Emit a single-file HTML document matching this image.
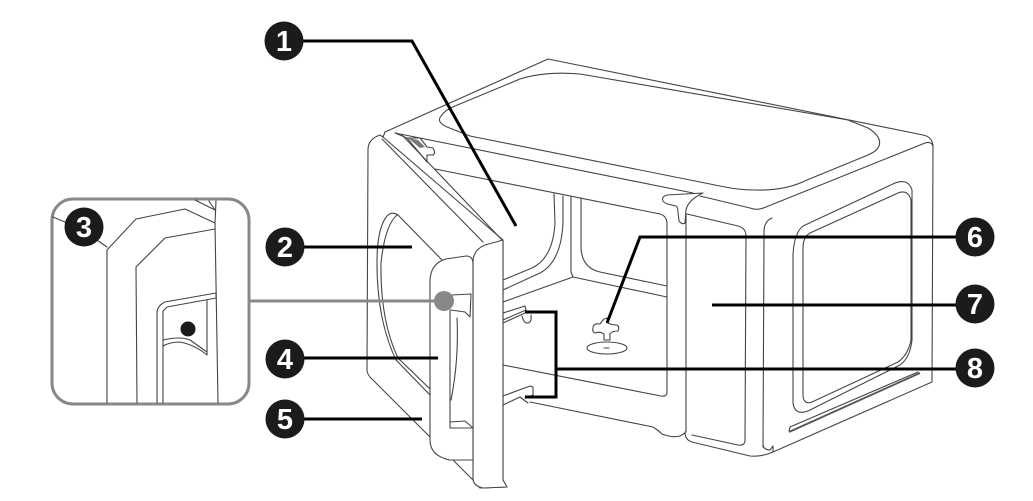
<!DOCTYPE html>
<html><head><meta charset="utf-8"><style>
html,body{margin:0;padding:0;background:#fff;width:1033px;height:501px;overflow:hidden}
svg{display:block}
.l{fill:none;stroke:#444;stroke-width:1.1;stroke-linejoin:round;stroke-linecap:round}
.w{fill:#fff;stroke:#444;stroke-width:1.1;stroke-linejoin:round}
.k{fill:none;stroke:#000;stroke-width:3}
.b{fill:#1c1a1b}
text{font-family:"Liberation Sans",sans-serif;font-weight:bold;font-size:29px;fill:#fff;text-anchor:middle}
</style></head><body>
<svg width="1033" height="501" viewBox="0 0 1033 501" xmlns="http://www.w3.org/2000/svg">
<!-- body top -->
<path class="l" d="M385 132L548 59L923 135Q933 137 933 147L932 382L773 452Q762 457 750 456L692 442Q685 440 685 432"/>
<path class="l" d="M470 136L447 127Q436 122 441 116Q445 110 455 106L520 79Q545 71 580 74L848 120L868 128Q884 138 878 148Q875 152 868 155L807 180Q785 191 755 190Q740 190 725 187Z"/>
<path class="l" d="M395 133L693 193M700 196L750 208Q757 211 766 207L925 143Q931 141 933 146"/>
<path class="l" d="M435 169L660 214Q667 216 667 224L667 392Q667 397 661 396L503 365"/>
<!-- clip -->
<path class="l" d="M703 193L667 195Q661 197 663 201Q665 204 672 205L676 206Q678 207 678 212L679 221Q682 225 685 223L686 210Q688 200 703 193"/>
<!-- front column -->
<path class="l" d="M686 214L686 432"/>
<path class="l" d="M687 214L738 226Q746 228 746 236L745 440Q745 446 738 445L692 435"/>
<path class="l" d="M763 447L764 232Q764 221 772 218"/>
<path class="l" d="M763 445Q764 450 770 450L773 446L773 452"/>
<!-- side window -->
<path class="l" d="M793 403L793 255Q794 233 803 226L895 183Q908 178 912 190L912 340Q910 358 900 365L810 410Q795 417 793 403Z"/>
<path class="l" d="M803 396L803 248Q803 237 810 233L898 193Q908 189 911 200L911 340Q908 355 898 362L812 402Q804 405 803 396Z"/>
<path class="l" d="M790 427L918 372"/>
<path class="l" d="M790 427L789 431"/>
<path d="M789 432L920 373" fill="none" stroke="#555" stroke-width="1.8"/>
<!-- cavity -->
<path class="l" d="M554 194L555 223Q553 258 532 268L503 280"/>
<path class="l" d="M563 196L563 223Q561 262 540 273L503 290"/>
<path class="l" d="M571 197L571 272L573 277L503 302"/>
<path class="l" d="M581 198L581 248Q582 268 600 272L667 286"/>
<path class="l" d="M573 277L667 297"/>
<path class="l" d="M530 402L653 427Q658 430 662 434Q672 438 680 436L685 433"/>
<!-- racks -->
<path class="l" d="M503 313L525 306L526 310L503 320M503 323L525 313"/>
<path class="l" d="M522 316Q524 324 528 323Q532 322 531 315"/>
<path class="l" d="M503 396L530 386L533 387L533 395M503 405L520 397L528 403M533 395L525 398"/>
<!-- stirrer -->
<path class="l" d="M593 328Q593 323 600 324L604 319L607 318L608 323Q612 325 617 325Q620 327 618 331Q612 331 610 334L610 340L604 340L604 334Q600 331 595 333Q592 332 593 328Z"/>
<ellipse class="l" cx="607" cy="348" rx="20" ry="6"/>
<path class="l" d="M604 348H609"/>
<!-- door back -->
<path class="w" d="M368 150Q368 139 380 135L383 137L503 240L503 483Q503 486 507 487L480 488L473 480L373 380Q367 375 367 370Z"/>
<path class="l" d="M382 139L483 242M402 135L503 241"/>
<path class="l" d="M385 132L383 137M395 133L407 138L420 138L427 147L433 148Q436 153 433 155L427 155L427 162L407 138"/>
<path d="M408 138L418 140L425 147L420 148Z" fill="#777"/>
<!-- window in door -->
<path class="l" d="M442 260L398 215Q392 211 387 216Q377 228 377 263Q377 320 396 360L430 395"/>
<path class="l" d="M397 215Q385 225 381 263Q380 320 398 358L430 389"/>
<!-- door front -->
<path class="w" d="M473 262Q473 250 485 245L503 240L503 480L507 487L483 488Q473 486 473 478Z"/>
<!-- handle -->
<path class="w" d="M430 280Q431 263 446 259L466 256Q473 256 473 264L473 460L450 460Q430 456 430 440Z"/>
<path class="l" d="M450 310L450 428L473 428M450 422L465 421L473 428"/>
<path class="l" d="M457 318Q459 360 451 400"/>
<path class="l" d="M452 295L471 294L470 317L465 312L451 310"/>
<!-- inset -->
<rect x="52" y="199" width="197" height="205" rx="21" ry="21" fill="#fff" stroke="#888" stroke-width="3"/>
<path class="l" d="M107 403L107 250L136 219L185 209L215 223L216 201M218 403L215 223M195 200L215 210L209 201"/>
<path class="l" d="M137 403L136 267L165 238L215 229M157 403L157 312Q158 305 165 302L216 293L216 298L167 307L163 311L163 403"/>
<path class="l" d="M207 300L207 355Q195 345 180 342Q170 342 163 346M163 340Q180 336 190 340L207 352"/>
<circle cx="188" cy="329" r="7.5" fill="#1c1a1b"/>
<path class="l" d="M53 217L72 225M94 238L107 247"/>
<!-- gray leader -->
<path d="M249 301H444" stroke="#888" stroke-width="3" fill="none"/>
<circle cx="444" cy="301" r="10" fill="#888"/>
<!-- black leaders -->
<path class="k" d="M300 41H412L516 226"/>
<path class="k" d="M300 247H412"/>
<path class="k" d="M300 358H438"/>
<path class="k" d="M300 419H422"/>
<path class="k" d="M960 237H640L607 323"/>
<path class="k" d="M960 305H712"/>
<path class="k" d="M960 369H556"/>
<path class="k" d="M525 312H556V397H525"/>
<!-- badges -->
<circle class="b" cx="284" cy="41" r="19.5"/><text x="284" y="51">1</text>
<circle class="b" cx="285" cy="247" r="19.5"/><text x="285" y="257">2</text>
<circle class="b" cx="84" cy="227" r="19.5"/><text x="84" y="237">3</text>
<circle class="b" cx="285" cy="359" r="19.5"/><text x="285" y="369">4</text>
<circle class="b" cx="285" cy="419" r="19.5"/><text x="285" y="429">5</text>
<circle class="b" cx="975" cy="237" r="19.5"/><text x="975" y="247">6</text>
<circle class="b" cx="975" cy="304" r="19.5"/><text x="975" y="314">7</text>
<circle class="b" cx="975" cy="368" r="19.5"/><text x="975" y="378">8</text>
</svg>
</body></html>
